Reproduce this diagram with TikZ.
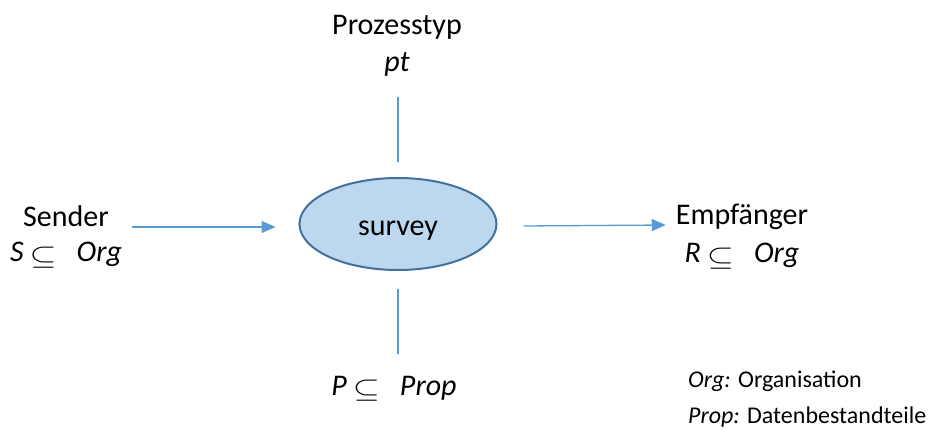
\documentclass[tikz,border=0pt]{standalone}
\usepackage{graphicx}
\usepackage{fontspec}
\setmainfont{Carlito}
\usetikzlibrary{arrows.meta,shapes.geometric}
\definecolor{arrblue}{HTML}{5B9BD5}
\definecolor{ellfill}{HTML}{BDD7EE}
\definecolor{elldraw}{HTML}{41719C}
\newcommand{\subsym}{\raisebox{-2pt}{\scalebox{1.4}[1.1]{$\subseteq$}}}
\begin{document}
\begin{tikzpicture}[x=1pt,y=-1pt,
  lbl/.style={font=\fontsize{30}{36}\selectfont, inner sep=0pt, anchor=base},
  leg/.style={font=\fontsize{24}{29}\selectfont, inner sep=0pt, anchor=base west},
  conn/.style={draw=arrblue, line width=1.3pt},
  arr/.style={conn, -{Triangle[length=14pt,width=12pt]}}]
\useasboundingbox (0,0) rectangle (934,430);
\node[draw=elldraw, line width=2pt, fill=ellfill, ellipse, minimum width=197pt,
      minimum height=92pt, inner sep=0pt] (surv) at (398,224) {};
\node[lbl] (survtxt) at (398,236) {survey};
\node[lbl] (sender) at (66,227) {Sender};
\node[lbl] (sset) at (66,262) {\itshape S\hspace{6pt}\subsym\hspace{20pt}Org};
\node[lbl] (empf) at (742,225) {Empfänger};
\node[lbl] (rset) at (742,263) {\itshape R\hspace{6pt}\subsym\hspace{20pt}Org};
\node[lbl] (proc) at (397,35) {Prozesstyp};
\node[lbl] (pt) at (397,72) {\itshape pt};
\node[lbl] (pset) at (394,395) {\itshape P\hspace{6pt}\subsym\hspace{20pt}Prop};
\node[leg] (leg1) at (688,387) {\textit{Org:} Organisation};
\node[leg] (leg2) at (688,423) {\textit{Prop:} Datenbestandteile};
\draw[arr] ([xshift=23pt]sender.base east) -- ([xshift=-23pt,yshift=-3pt]surv.west);
\draw[arr] ([xshift=26pt,yshift=-2pt]surv.east) -- ([xshift=-10pt]empf.base west);
\draw[conn] ([yshift=15pt]surv.north) -- ([yshift=80pt]surv.north);
\draw[conn] ([yshift=-18pt]surv.south) -- ([yshift=-83pt]surv.south);
\end{tikzpicture}
\end{document}
